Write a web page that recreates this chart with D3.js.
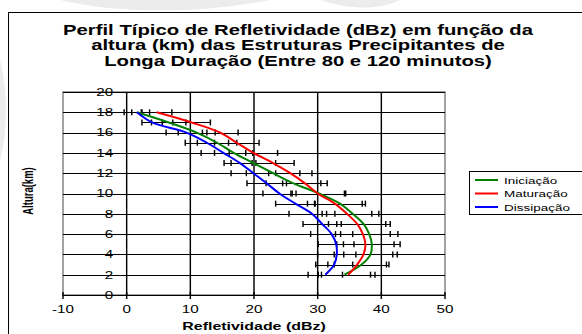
<!DOCTYPE html>
<html>
<head>
<meta charset="utf-8">
<script src="https://cdn.jsdelivr.net/npm/d3@7/dist/d3.min.js"></script>
<style>
    body { margin: 0; background: #fff; }
    svg { display: block; }
    text { font-family: Arial, "Liberation Sans", sans-serif; fill: #000; }
</style>
</head>
<body>
<svg id="chart" width="582" height="334"></svg>
<script>
// Altitudes (km) and mean reflectivity (dBz) for each phase
const alturas = [2, 3, 4, 5, 6, 7, 8, 9, 10, 11, 12, 13, 14, 15, 16, 17, 18];
const iniciacao  = [34.2, 36.9, 38.3, 38.5, 38.1, 37.2, 35.5, 33.5, 30.2, 26.2, 23.0, 19.9, 16.8, 14.2, 11.0, 6.6, 1.6];
const maturacao  = [34.8, 36.2, 37.2, 37.5, 37.1, 36.2, 34.6, 32.7, 30.0, 28.0, 25.7, 23.0, 19.9, 17.3, 14.7, 10.2, 4.7];
const dissipacao = [31.2, 32.6, 33.0, 32.9, 32.2, 30.7, 29.1, 26.5, 24.0, 22.0, 19.9, 17.8, 15.2, 12.6, 9.4, 4.0, 1.6];

// Half width of the error bars (dBz)
const errIniciacao  = [4.1, 4.3, 4.2, 4.45, 4.5, 4.2, 4.1, 4.0, 4.2, 4.3, 4.2, 3.5, 3.0, 3.1, 2.9, 2.7, 2.0];
const errMaturacao  = [4.2, 4.6, 4.6, 4.5, 4.3, 4.5, 3.9, 4.3, 4.2, 3.5, 3.4, 3.3, 3.8, 3.5, 2.8, 2.95, 2.4];
const errDissipacao = [2.7, 2.9, 3.0, 2.8, 3.3, 3.0, 3.6, 3.1, 2.6, 3.1, 3.5, 2.5, 3.5, 3.4, 3.2, 1.6, 0.8];

const xTicks = [-10, 0, 10, 20, 30, 40, 50];
const yTicks = [0, 2, 4, 6, 8, 10, 12, 14, 16, 18, 20];
const titulo = [
    "Perfil Típico de Refletividade (dBz) em função da",
    "altura (km) das Estruturas Precipitantes de",
    "Longa Duração (Entre 80 e 120 minutos)"
];

const series = [
    { nome: "Iniciação",  cor: "#008000", valores: iniciacao,  erros: errIniciacao },
    { nome: "Maturação",  cor: "#ff0000", valores: maturacao,  erros: errMaturacao },
    { nome: "Dissipação", cor: "#0000ff", valores: dissipacao, erros: errDissipacao }
];

// the source picture is stretched horizontally, so is the text here
const SX = 1.45;

const svg = d3.select("#chart");

// faint background swooshes outside the chart frame
svg.append("path")
    .attr("d", "M60,0 C120,14 200,14 270,0 Z M320,0 C350,10 380,10 400,0 Z M0,60 C8,90 8,130 0,160 Z")
    .attr("fill", "#ececec");

// chart frame
svg.append("rect")
    .attr("x", 8.5).attr("y", 12.5)
    .attr("width", 600).attr("height", 340)
    .attr("fill", "#fff")
    .attr("stroke", "#000");

function addText(x, y, str, size, weight, anchor) {
    return svg.append("text")
        .attr("transform", `translate(${x},${y}) scale(${SX},1)`)
        .attr("text-anchor", anchor || "middle")
        .attr("font-size", size)
        .attr("font-weight", weight || "normal")
        .text(str);
}

// title
titulo.forEach((linha, i) => {
    addText(298, 34.5 + i * 15.6, linha, 14, "bold");
});

const x = d3.scaleLinear().domain([-10, 50]).range([63, 445]);
const y = d3.scaleLinear().domain([0, 20]).range([295, 92]);

// plot area border
svg.append("rect")
    .attr("x", x(-10)).attr("y", y(20))
    .attr("width", x(50) - x(-10)).attr("height", y(0) - y(20))
    .attr("fill", "none")
    .attr("stroke", "#808080")
    .attr("stroke-width", SX);

// gridlines
svg.append("g")
    .selectAll("line")
    .data(yTicks.filter(d => d > 0))
    .join("line")
    .attr("x1", x(-10)).attr("x2", x(50))
    .attr("y1", d => Math.round(y(d)) + 0.5)
    .attr("y2", d => Math.round(y(d)) + 0.5)
    .attr("stroke", "#000");

svg.append("g")
    .selectAll("line")
    .data(xTicks.filter(d => d > -10 && d < 50 && d !== 0))
    .join("line")
    .attr("x1", d => x(d)).attr("x2", d => x(d))
    .attr("y1", y(20)).attr("y2", y(0))
    .attr("stroke", "#000")
    .attr("stroke-width", SX);

// axes: y axis crosses at x=0, x axis at y=0
svg.append("line")
    .attr("x1", x(0)).attr("x2", x(0))
    .attr("y1", y(20)).attr("y2", y(0))
    .attr("stroke", "#000").attr("stroke-width", SX);

svg.append("line")
    .attr("x1", x(-10)).attr("x2", x(50))
    .attr("y1", Math.round(y(0)) + 0.5).attr("y2", Math.round(y(0)) + 0.5)
    .attr("stroke", "#000");

svg.append("g")
    .selectAll("line")
    .data(xTicks)
    .join("line")
    .attr("x1", d => x(d)).attr("x2", d => x(d))
    .attr("y1", y(0) - 3).attr("y2", y(0) + 4)
    .attr("stroke", "#000").attr("stroke-width", SX);

svg.append("g")
    .selectAll("line")
    .data(yTicks)
    .join("line")
    .attr("x1", x(0) - 5).attr("x2", x(0) + 5)
    .attr("y1", d => Math.round(y(d)) + 0.5)
    .attr("y2", d => Math.round(y(d)) + 0.5)
    .attr("stroke", "#000");

// tick labels
yTicks.forEach(d => addText(x(0) - 13.5, y(d) + 3.8, d, 10.5, "normal", "end"));
xTicks.forEach(d => addText(x(d), 313, d, 10.5));

// axis titles
addText(254, 329.5, "Refletividade (dBz)", 11, "bold");
svg.append("text")
    .attr("transform", `translate(33,191) scale(${SX},1) rotate(-90)`)
    .attr("text-anchor", "middle")
    .attr("font-size", 9.5)
    .attr("font-weight", "bold")
    .text("Altura(km)");

// error bars
const barras = svg.append("g");
series.forEach(s => {
    const pts = alturas.map((h, i) => ({ h, lo: s.valores[i] - s.erros[i], hi: s.valores[i] + s.erros[i] }));
    barras.append("g")
        .selectAll("line")
        .data(pts)
        .join("line")
        .attr("x1", d => x(d.lo)).attr("x2", d => x(d.hi))
        .attr("y1", d => Math.round(y(d.h)) + 0.5)
        .attr("y2", d => Math.round(y(d.h)) + 0.5)
        .attr("stroke", "#000");
    barras.append("g")
        .selectAll("line")
        .data(pts.flatMap(d => [{ h: d.h, v: d.lo }, { h: d.h, v: d.hi }]))
        .join("line")
        .attr("x1", d => x(d.v)).attr("x2", d => x(d.v))
        .attr("y1", d => y(d.h) - 3).attr("y2", d => y(d.h) + 3)
        .attr("stroke", "#000").attr("stroke-width", SX);
});

// smoothed profile lines
const linha = d3.line()
    .x(d => x(d[1]))
    .y(d => y(d[0]))
    .curve(d3.curveCatmullRom.alpha(0.5));

series.forEach(s => {
    svg.append("path")
        .datum(alturas.map((h, i) => [h, s.valores[i]]))
        .attr("d", linha)
        .attr("fill", "none")
        .attr("stroke", s.cor)
        .attr("stroke-width", 2);
});

// legend
const legenda = svg.append("g");
legenda.append("rect")
    .attr("x", 469.5).attr("y", 171.5)
    .attr("width", 130).attr("height", 43)
    .attr("fill", "#fff").attr("stroke", "#000");

series.forEach((s, i) => {
    const ly = 180 + i * 13.5;
    legenda.append("line")
        .attr("x1", 475).attr("x2", 498)
        .attr("y1", ly).attr("y2", ly)
        .attr("stroke", s.cor).attr("stroke-width", 2);
    legenda.append("text")
        .attr("transform", `translate(504,${ly + 3.5}) scale(${SX},1)`)
        .attr("font-size", 9.3)
        .text(s.nome);
});
</script>
</body>
</html>
